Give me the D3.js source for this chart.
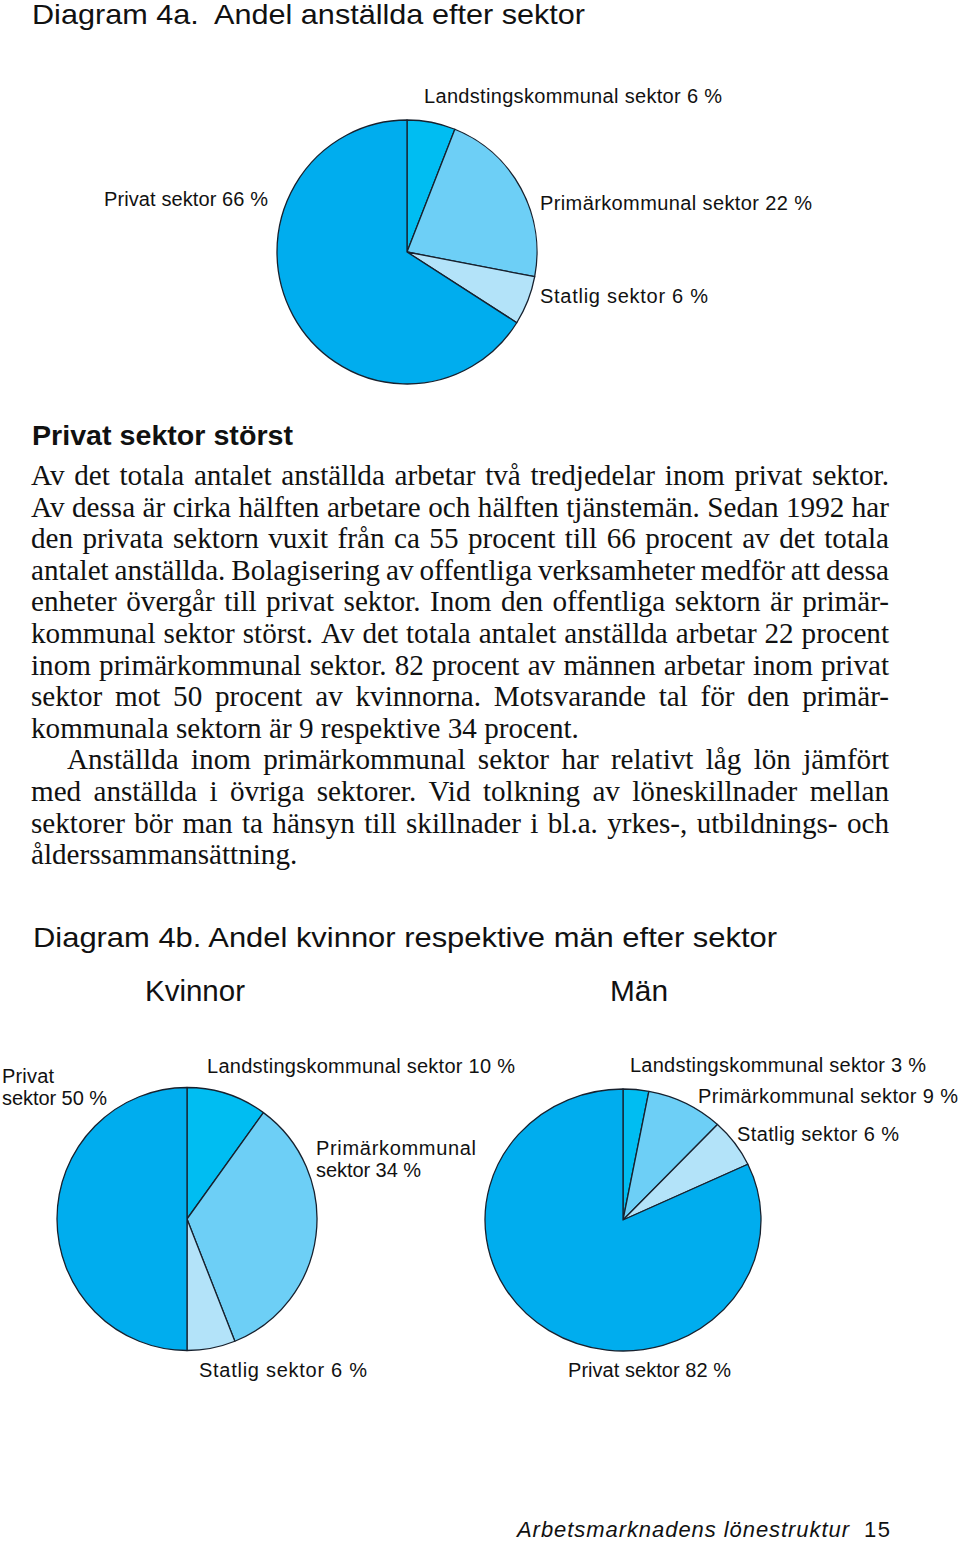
<!DOCTYPE html>
<html><head><meta charset="utf-8">
<script src="https://cdn.jsdelivr.net/npm/d3@7"></script>
<style>body{margin:0;background:#fff} svg{display:block}</style>
</head><body>
<svg id="c" width="960" height="1542"></svg>
<script>
// ---------- data ----------
const sectors = ["Landstingskommunal sektor", "Primärkommunal sektor", "Statlig sektor", "Privat sektor"];
const totalShare = [6, 22, 6, 66];
const womenShare = [10, 34, 6, 50];
const menShare = [3, 9, 6, 82];
const sectorColors = ["#00bdf2", "#6dcff6", "#b3e3f9", "#00adee"];

const title4a = "Diagram 4a.  Andel anställda efter sektor";
const title4b = "Diagram 4b. Andel kvinnor respektive män efter sektor";
const groupTitles = ["Kvinnor", "Män"];
const heading = "Privat sektor störst";
const paragraphLines = [
  "Av det totala antalet anställda arbetar två tredjedelar inom privat sektor.",
  "Av dessa är cirka hälften arbetare och hälften tjänstemän. Sedan 1992 har",
  "den privata sektorn vuxit från ca 55 procent till 66 procent av det totala",
  "antalet anställda. Bolagisering av offentliga verksamheter medför att dessa",
  "enheter övergår till privat sektor. Inom den offentliga sektorn är primär-",
  "kommunal sektor störst. Av det totala antalet anställda arbetar 22 procent",
  "inom primärkommunal sektor. 82 procent av männen arbetar inom privat",
  "sektor mot 50 procent av kvinnorna. Motsvarande tal för den primär-",
  "kommunala sektorn är 9 respektive 34 procent.",
  "Anställda inom primärkommunal sektor har relativt låg lön jämfört",
  "med anställda i övriga sektorer. Vid tolkning av löneskillnader mellan",
  "sektorer bör man ta hänsyn till skillnader i bl.a. yrkes-, utbildnings- och",
  "ålderssammansättning."
];
const lastLineOfParagraph = [8, 12];
const indentedLines = [9];
const footerText = "Arbetsmarknadens lönestruktur";
const pageNumber = "15";

// ---------- drawing ----------
const svg = d3.select("#c");
const SANS = "'Liberation Sans', Arial, sans-serif";
const SERIF = "'Liberation Serif', 'Times New Roman', serif";

function txt(s, x, y, size, opts = {}) {
  const t = svg.append("text")
    .attr("x", x).attr("y", y)
    .attr("font-family", opts.family || SANS)
    .attr("font-size", size)
    .attr("font-weight", opts.weight || "normal")
    .attr("font-style", opts.style || "normal")
    .attr("fill", "#111")
    .style("white-space", "pre")
    .text(s);
  if (opts.width) t.attr("textLength", opts.width).attr("lengthAdjust", opts.adjust || "spacing");
  return t;
}

// titles
txt(title4a, 32, 24, 28, {width: 553, adjust: "spacingAndGlyphs"});
txt(title4b, 33, 947, 28, {width: 744, adjust: "spacingAndGlyphs"});
txt(groupTitles[0], 145, 1001, 29, {width: 100, adjust: "spacingAndGlyphs"});
txt(groupTitles[1], 610, 1001, 29, {width: 58, adjust: "spacingAndGlyphs"});

// pies
function drawPie(values, cx, cy, rx, ry) {
  const g = svg.append("g").attr("transform", `translate(${cx},${cy}) scale(${rx / ry},1)`);
  const arcs = d3.pie().sort(null).value(d => d)(values);
  const arc = d3.arc().innerRadius(0).outerRadius(ry);
  g.selectAll("path").data(arcs).join("path")
    .attr("d", arc)
    .attr("fill", (d, i) => sectorColors[i])
    .attr("stroke", "#17212e")
    .attr("stroke-width", 1.3)
    .attr("stroke-linejoin", "round")
    .attr("vector-effect", "non-scaling-stroke");
}
drawPie(totalShare, 407, 252, 130, 132);
drawPie(womenShare, 187, 1219, 130, 131.5);
drawPie(menShare, 623, 1220, 138, 131);

const label = (values, i) => `${sectors[i]} ${values[i]} %`;
const LS = 20;
// pie 1 labels
txt(label(totalShare, 0), 424, 103, LS, {width: 298});
txt(label(totalShare, 3), 104, 206, LS, {width: 164});
txt(label(totalShare, 1), 540, 210, LS, {width: 272});
txt(label(totalShare, 2), 540, 303, LS, {width: 168});

// women labels
{
  const priv = label(womenShare, 3).split(/ (.+)/);
  txt(priv[0], 2, 1083, LS, {width: 52});
  txt(priv[1], 2, 1105, LS, {width: 105});
  txt(label(womenShare, 0), 207, 1073, LS, {width: 308});
  const prim = label(womenShare, 1).split(/ (.+)/);
  txt(prim[0], 316, 1155, LS, {width: 160});
  txt(prim[1], 316, 1177, LS, {width: 105});
  txt(label(womenShare, 2), 199, 1377, LS, {width: 168});
}
// men labels
txt(label(menShare, 0), 630, 1072, LS, {width: 296});
txt(label(menShare, 1), 698, 1103, LS, {width: 260});
txt(label(menShare, 2), 737, 1141, LS, {width: 162});
txt(label(menShare, 3), 568, 1377, LS, {width: 163});

// heading
txt(heading, 32, 445, 28, {weight: "bold", width: 261, adjust: "spacingAndGlyphs"});

// paragraph with justification
{
  const left = 31, right = 889, base = 485, lh = 31.6, minGap = 0.2;
  const measure = s => {
    const p = svg.append("text").attr("font-family", SERIF).attr("font-size", 100).text(s);
    const w = p.node().getComputedTextLength(); p.remove(); return w;
  };
  let fs = 100 * 562 / measure(paragraphLines[8]);
  paragraphLines.forEach((line, i) => {
    if (lastLineOfParagraph.includes(i)) return;
    const x0 = indentedLines.includes(i) ? 67 : left;
    const words = line.split(" ");
    const sw = d3.sum(words, measure) / 100;
    fs = Math.min(fs, (right - x0) / (sw + minGap * (words.length - 1)));
  });
  const spaceW = (measure("a a") - measure("aa")) / 100 * fs;
  paragraphLines.forEach((line, i) => {
    const y = base + i * lh;
    const x0 = indentedLines.includes(i) ? 67 : left;
    const words = line.split(" ");
    const t = svg.append("text").attr("font-family", SERIF).attr("font-size", fs)
      .attr("fill", "#111").attr("y", y);
    const spans = words.map(w => t.append("tspan").text(w));
    const widths = spans.map(s => s.node().getComputedTextLength());
    const sum = d3.sum(widths);
    const gap = lastLineOfParagraph.includes(i) ? spaceW : (right - x0 - sum) / (words.length - 1);
    let x = x0;
    spans.forEach((s, k) => { s.attr("x", x); x += widths[k] + gap; });
  });
}

// footer
txt(footerText, 517, 1537, 22, {style: "italic", width: 332});
txt(pageNumber, 864, 1537, 22, {width: 26});
</script>
</body></html>
